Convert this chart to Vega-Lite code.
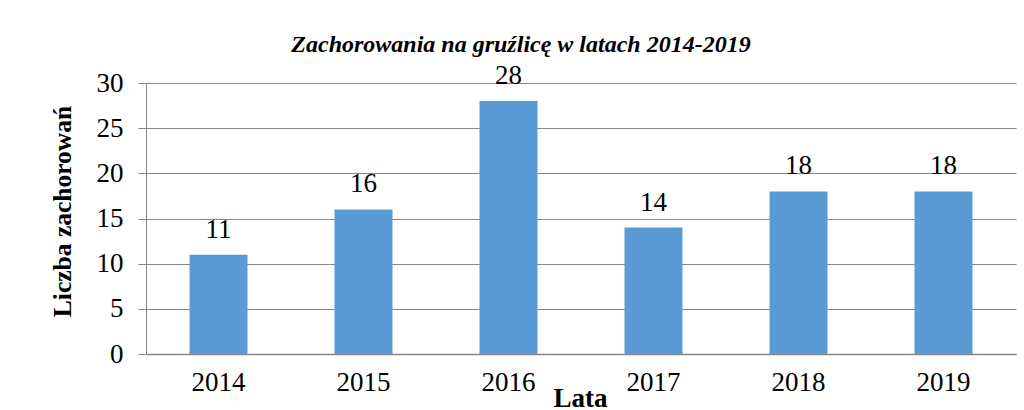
{
  "$schema": "https://vega.github.io/schema/vega-lite/v6.json",
  "autosize": {"type": "none"},
  "width": 870,
  "height": 271,
  "padding": {"left": 146, "top": 83, "right": 8, "bottom": 56},
  "background": "white",
  "title": {
    "text": "Zachorowania na gruźlicę w latach 2014-2019",
    "font": "Times New Roman, Liberation Serif, serif",
    "fontSize": 24,
    "fontStyle": "italic",
    "fontWeight": "bold",
    "color": "black",
    "anchor": "middle",
    "frame": "group",
    "dx": -60,
    "offset": 5
  },
  "data": {
    "values": [
      {"rok": "2014", "liczba": 11},
      {"rok": "2015", "liczba": 16},
      {"rok": "2016", "liczba": 28},
      {"rok": "2017", "liczba": 14},
      {"rok": "2018", "liczba": 18},
      {"rok": "2019", "liczba": 18}
    ]
  },
  "encoding": {
    "x": {
      "field": "rok",
      "type": "nominal",
      "scale": {"paddingInner": 0.6, "paddingOuter": 0.3},
      "axis": {
        "title": "Lata",
        "titleFont": "Times New Roman, Liberation Serif, serif",
        "titleFontSize": 27,
        "titleFontWeight": "bold",
        "titleColor": "black",
        "titleX": 434,
        "titleY": 52,
        "titleBaseline": "alphabetic",
        "titleAlign": "center",
        "labelAngle": 0,
        "labelFont": "Times New Roman, Liberation Serif, serif",
        "labelFontSize": 27,
        "labelColor": "black",
        "labelPadding": 15,
        "ticks": false,
        "domainColor": "#868686",
        "domainWidth": 1.5,
        "grid": false
      }
    },
    "y": {
      "field": "liczba",
      "type": "quantitative",
      "scale": {"domain": [0, 30], "nice": false},
      "axis": {
        "title": "Liczba zachorowań",
        "titleFont": "Times New Roman, Liberation Serif, serif",
        "titleFontSize": 25.5,
        "titleFontWeight": "bold",
        "titleColor": "black",
        "titleAngle": 270,
        "titleX": -76,
        "titleY": 128,
        "titleAlign": "center",
        "titleBaseline": "alphabetic",
        "values": [0, 5, 10, 15, 20, 25, 30],
        "labelFont": "Times New Roman, Liberation Serif, serif",
        "labelFontSize": 27,
        "labelColor": "black",
        "labelPadding": 15,
        "tickSize": 8,
        "tickColor": "#868686",
        "domainColor": "#868686",
        "grid": true,
        "gridColor": "#868686",
        "gridWidth": 1
      }
    }
  },
  "layer": [
    {"mark": {"type": "bar", "color": "#5B9BD5"}},
    {
      "mark": {
        "type": "text",
        "font": "Times New Roman, Liberation Serif, serif",
        "fontSize": 27,
        "color": "black",
        "baseline": "alphabetic",
        "dy": -17
      },
      "encoding": {"text": {"field": "liczba", "type": "quantitative"}}
    }
  ],
  "config": {"view": {"stroke": null}}
}
